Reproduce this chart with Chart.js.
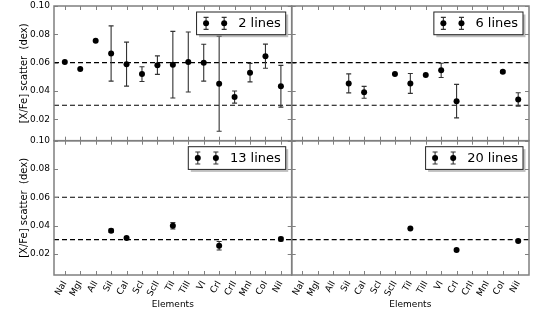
<!DOCTYPE html>
<html><head><meta charset="utf-8">
<script src="https://cdn.jsdelivr.net/npm/chart.js@4"></script>
<style>
html,body{margin:0;padding:0;background:#fff;}
#wrap{position:relative;width:540px;height:324px;background:#fff;}
#wrap canvas{position:absolute;left:0;top:0;}
</style></head><body>
<div id="wrap">
<canvas id="c0" width="540" height="324"></canvas>
<canvas id="c1" width="540" height="324"></canvas>
<canvas id="c2" width="540" height="324"></canvas>
<canvas id="c3" width="540" height="324"></canvas>
</div>
<script>
// ---- data ----
const categories = ['NaI','MgI','AlI','SiI','CaI','ScI','ScII','TiI','TiII','VI','CrI','CrII','MnI','CoI','NiI'];
const yTicks = [0.02, 0.04, 0.06, 0.08, 0.10];
const refLines = [0.06, 0.03];
const legendLabels = ['2 lines', '6 lines', '13 lines', '20 lines'];
const yTitle = '[X/Fe] scatter  (dex)';
const xTitle = 'Elements';

const scatter2 = [0.0605, 0.0555, 0.0755, 0.0665, 0.0590, 0.0520, 0.0583, 0.0586, 0.0605, 0.0600, 0.0452, 0.0358, 0.0530, 0.0646, 0.0434];
const err2     = [0,      0,      0,      0.0195, 0.0155, 0.0052, 0.0065, 0.0235, 0.0212, 0.0130, 0.0335, 0.0043, 0.0065, 0.0085, 0.0147];

const scatter6 = [null, null, null, 0.0454, 0.0391, null, 0.0520, 0.0454, 0.0513, 0.0546, 0.0329, null, null, 0.0536, 0.0341];
const err6     = [null, null, null, 0.0067, 0.0042, null, 0,      0.0070, 0,      0.0050, 0.0118, null, null, 0.0008, 0.0047];

const scatter13 = [null, null, null, 0.0363, 0.0311, null, null, 0.0398, null, null, 0.0257, null, null, null, 0.0304];
const err13     = [null, null, null, 0.0012, 0.0005, null, null, 0.0023, null, null, 0.0030, null, null, null, 0.0013];

const scatter20 = [null, null, null, null, null, null, null, 0.0379, null, null, 0.0226, null, null, null, 0.0290];
const err20     = [null, null, null, null, null, null, null, 0,      null, null, 0,      null, null, null, 0.0004];

// ---- layout / style ----
const FONT = "'DejaVu Sans', sans-serif";
const yMin = 0.005, yMax = 0.10, xMin = -0.7, xMax = 14.7;
const G = {left: 54, mid: 291.7, right: 529, top: 6, midY: 140.7, bottom: 275, padB: 13.8, padL: 18.6};

const panels = [
  {id: 'c0', vals: scatter2,  errs: err2,  label: legendLabels[0], showY: true,  showX: false},
  {id: 'c1', vals: scatter6,  errs: err6,  label: legendLabels[1], showY: false, showX: false},
  {id: 'c2', vals: scatter13, errs: err13, label: legendLabels[2], showY: true,  showX: true},
  {id: 'c3', vals: scatter20, errs: err20, label: legendLabels[3], showY: false, showX: true}
];

function errBar(ctx, px, y1, y2, cap) {
  ctx.beginPath();
  ctx.moveTo(px, y1); ctx.lineTo(px, y2);
  ctx.moveTo(px - cap, y1); ctx.lineTo(px + cap, y1);
  ctx.moveTo(px - cap, y2); ctx.lineTo(px + cap, y2);
  ctx.stroke();
}

const deco = {
  id: 'deco',
  beforeDatasetsDraw(chart, args, p) {
    const {ctx, chartArea: a, scales: {x, y}} = chart;
    ctx.save();
    ctx.strokeStyle = '#000'; ctx.lineWidth = 1.2; ctx.setLineDash([5, 3]);
    refLines.forEach(v => {
      const py = y.getPixelForValue(v);
      ctx.beginPath(); ctx.moveTo(a.left, py); ctx.lineTo(a.right, py); ctx.stroke();
    });
    ctx.setLineDash([]);
    ctx.strokeStyle = '#333'; ctx.lineWidth = 1.1;
    p.vals.forEach((v, i) => {
      const e = p.errs[i];
      if (v == null || !e) return;
      errBar(ctx, x.getPixelForValue(i), y.getPixelForValue(v + e), y.getPixelForValue(v - e), 2.5);
    });
    ctx.restore();
  },
  afterDatasetsDraw(chart, args, p) {
    const {ctx, chartArea: a, scales: {x, y}} = chart;
    ctx.save();
    // ticks (inward, all sides)
    ctx.strokeStyle = '#808080'; ctx.lineWidth = 1;
    categories.forEach((c, i) => {
      const px = Math.round(x.getPixelForValue(i)) + 0.5;
      ctx.beginPath();
      ctx.moveTo(px, a.top); ctx.lineTo(px, a.top + 4);
      ctx.moveTo(px, a.bottom); ctx.lineTo(px, a.bottom - 4);
      ctx.stroke();
    });
    yTicks.forEach(v => {
      const py = Math.round(y.getPixelForValue(v)) + 0.5;
      ctx.beginPath();
      ctx.moveTo(a.left, py); ctx.lineTo(a.left + 4, py);
      ctx.moveTo(a.right, py); ctx.lineTo(a.right - 4, py);
      ctx.stroke();
    });
    // spines
    ctx.strokeStyle = '#7f7f7f'; ctx.lineWidth = 1.5;
    ctx.strokeRect(a.left, a.top, a.right - a.left, a.bottom - a.top);
    // legend
    ctx.font = '13px ' + FONT;
    const tw = ctx.measureText(p.label).width;
    const w = tw + 46.5, h = 22.7;
    const bx = a.right - 6 - w, by = a.top + 6;
    ctx.fillStyle = 'rgba(128,128,128,0.5)';
    ctx.fillRect(bx + 2.5, by + 2.5, w, h);
    ctx.fillStyle = '#fff';
    ctx.fillRect(bx, by, w, h);
    ctx.strokeStyle = '#222'; ctx.lineWidth = 1;
    ctx.strokeRect(bx, by, w, h);
    const cy = by + h / 2;
    [bx + 9.5, bx + 27.6].forEach(mx => {
      ctx.strokeStyle = '#333'; ctx.lineWidth = 1.1;
      errBar(ctx, mx, cy - 6, cy + 6, 2.5);
      ctx.fillStyle = '#000';
      ctx.beginPath(); ctx.arc(mx, cy, 3, 0, Math.PI * 2); ctx.fill();
    });
    ctx.fillStyle = '#000'; ctx.textBaseline = 'middle'; ctx.textAlign = 'left';
    ctx.fillText(p.label, bx + 41.6, cy + 0.5);
    ctx.restore();
  }
};

panels.forEach(p => {
  const isLeft = p.showY;
  const isBottom = p.showX;
  const padding = {
    left: isLeft ? G.padL : G.mid,
    right: isLeft ? 540 - G.mid : 540 - G.right,
    top: isBottom ? G.midY : G.top,
    bottom: isBottom ? G.padB : 324 - G.midY
  };
  new Chart(document.getElementById(p.id), {
    type: 'scatter',
    data: {
      datasets: [{
        data: categories.map((c, i) => ({x: i, y: p.vals[i]})).filter(d => d.y != null),
        backgroundColor: '#000', borderWidth: 0, pointRadius: 3, pointHoverRadius: 3
      }]
    },
    options: {
      responsive: false, animation: false, events: [],
      devicePixelRatio: 1,
      layout: {padding},
      plugins: {legend: {display: false}, tooltip: {enabled: false},
        deco: {vals: p.vals, errs: p.errs, label: p.label}},
      scales: {
        x: {
          type: 'linear', min: xMin, max: xMax, bounds: 'data', display: isBottom,
          afterBuildTicks: s => { s.ticks = categories.map((c, i) => ({value: i})); },
          afterFit: s => {
            s.height = isBottom ? 324 - G.padB - G.bottom : 0;
            s.paddingLeft = 0; s.paddingRight = 0; s.paddingTop = 0; s.paddingBottom = 0;
          },
          grid: {display: false, drawTicks: false}, border: {display: false},
          ticks: {autoSkip: false, minRotation: 60, maxRotation: 60, padding: 4,
            color: '#000', font: {family: FONT, size: 9},
            callback: v => categories[Math.round(v)]},
          title: {display: true, text: xTitle, color: '#000', padding: 0, font: {family: FONT, size: 9}}
        },
        y: {
          type: 'linear', min: yMin, max: yMax, bounds: 'data', display: isLeft,
          afterBuildTicks: s => { s.ticks = yTicks.map(v => ({value: v})); },
          afterFit: s => {
            s.width = isLeft ? G.left - G.padL : 0;
            s.paddingLeft = 0; s.paddingRight = 0; s.paddingTop = 0; s.paddingBottom = 0;
          },
          grid: {display: false, drawTicks: false}, border: {display: false},
          ticks: {padding: 4, color: '#000', font: {family: FONT, size: 9},
            callback: v => v.toFixed(2)},
          title: {display: true, text: yTitle, color: '#000', padding: 0, font: {family: FONT, size: 10}}
        }
      }
    },
    plugins: [deco]
  });
});
</script>
</body></html>
